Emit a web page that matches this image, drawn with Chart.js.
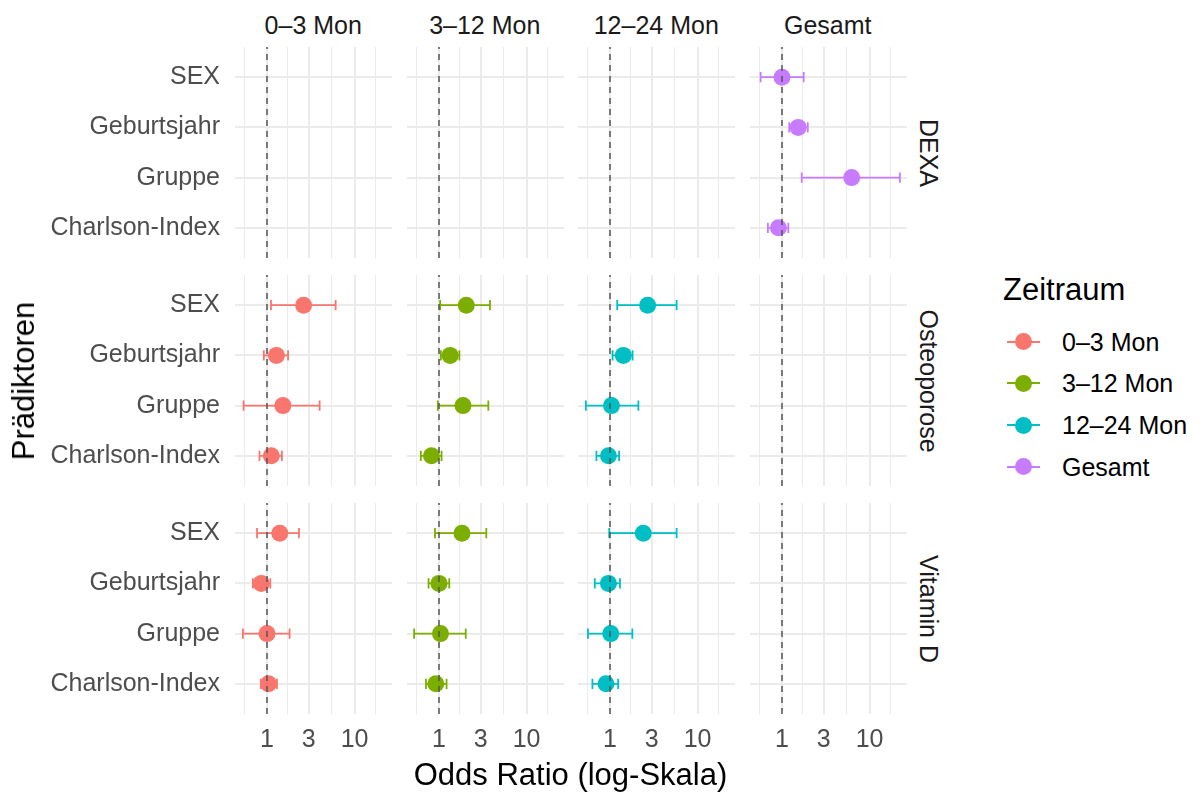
<!DOCTYPE html>
<html lang="de">
<head>
<meta charset="utf-8">
<title>Odds Ratios nach Zeitraum</title>
<script src="https://cdn.jsdelivr.net/npm/chart.js@4"></script>
<style>
  body { margin: 0; background: #fff; font-family: "Liberation Sans", Arial, sans-serif; }
  #plot { position: relative; width: 1199px; height: 792px; overflow: hidden; }
  #plot canvas { position: absolute; }
  .txt { position: absolute; white-space: nowrap; }
  .strip { font-size: 25px; line-height: 30px; color: #1A1A1A; }
  .title { font-size: 31px; line-height: 36px; color: #000; }
  .legend-item { position: absolute; left: 1007px; height: 30px; display: flex; align-items: center; }
  .key { position: relative; width: 33px; height: 30px; }
  .key .line { position: absolute; left: 0; right: 0; top: 14px; height: 2px; }
  .key .dot { position: absolute; left: 8px; top: 6.5px; width: 17px; height: 17px; border-radius: 50%; }
  .legend-item span.lab { margin-left: 22px; font-size: 25px; line-height: 30px; color: #000; }
</style>
</head>
<body>
<div id="plot"></div>
<script>
const zeitraeume = ['0–3 Mon', '3–12 Mon', '12–24 Mon', 'Gesamt'];
const endpunkte = ['DEXA', 'Osteoporose', 'Vitamin D'];
const praediktoren = ['SEX', 'Geburtsjahr', 'Gruppe', 'Charlson-Index'];
const xBreaks = [0.3, 1, 3, 10, 30];
const xLabels = [1, 3, 10];

// OR mit 95%-KI je Zeitraum, Reihenfolge wie praediktoren (null = kein Modell)
const dexaOR = [null, null, null, [1.00, 1.53, 6.25, 0.91]];
const dexaLo = [null, null, null, [0.57, 1.21, 1.68, 0.69]];
const dexaHi = [null, null, null, [1.77, 1.97, 22.2, 1.18]];

const osteoOR = [[2.62, 1.28, 1.52, 1.12], [2.05, 1.34, 1.88, 0.82], [2.69, 1.42, 1.04, 0.96], null];
const osteoLo = [[1.11, 0.92, 0.54, 0.82], [1.03, 1.05, 0.97, 0.62], [1.21, 1.07, 0.53, 0.70], null];
const osteoHi = [[6.08, 1.74, 3.99, 1.48], [3.82, 1.71, 3.66, 1.07], [5.77, 1.81, 2.11, 1.27], null];

const vitdOR = [[1.40, 0.86, 1.00, 1.04], [1.83, 1.00, 1.04, 0.92], [2.40, 0.96, 1.02, 0.90], null];
const vitdLo = [[0.77, 0.69, 0.53, 0.85], [0.90, 0.76, 0.52, 0.71], [0.98, 0.67, 0.56, 0.63], null];
const vitdHi = [[2.32, 1.09, 1.81, 1.30], [3.47, 1.31, 2.02, 1.22], [5.77, 1.30, 1.80, 1.24], null];

const farben = ['#F8766D', '#7CAE00', '#00BFC4', '#C77CFF'];

const zeilen = [
    [dexaOR, dexaLo, dexaHi],
    [osteoOR, osteoLo, osteoHi],
    [vitdOR, vitdLo, vitdHi]
];

// Raster der Facetten
const COL_X = [235, 406.5, 578, 749.5];
const ROW_Y = [47, 275, 503];
const PANEL_W = 156.5;
const PANEL_H = 211;
const Y_AXIS_W = 235;
const X_AXIS_H = 50;
const FONT = '"Liberation Sans", Arial, sans-serif';

const plot = document.getElementById('plot');

// gemeinsame log-Achse wie bei ggplot (5% Erweiterung)
const alleWerte = zeilen.flatMap(z => [z[1], z[2]]).flat().filter(Boolean).flat();
const lmin = Math.log10(Math.min(...alleWerte));
const lmax = Math.log10(Math.max(...alleWerte));
const ext = (lmax - lmin) * 0.05;
const xMin = Math.pow(10, lmin - ext);
const xMax = Math.pow(10, lmax + ext);

const xGrid = [];
xBreaks.forEach((b, i) => {
    xGrid.push(b);
    if (i < xBreaks.length - 1) xGrid.push(Math.sqrt(b * xBreaks[i + 1]));
});
const xGridSichtbar = xGrid.filter(v => v >= xMin && v <= xMax);

function addText(text, cls, css) {
    const d = document.createElement('div');
    d.className = 'txt ' + cls;
    d.textContent = text;
    Object.assign(d.style, css);
    plot.appendChild(d);
    return d;
}

function panel(row, col) {
    const [orAll, loAll, hiAll] = zeilen[row];
    const or = orAll[col], lo = loAll[col], hi = hiAll[col];
    const first = col === 0;
    const last = row === ROW_Y.length - 1;

    const canvas = document.createElement('canvas');
    const left = first ? 0 : COL_X[col];
    const width = first ? COL_X[0] + PANEL_W : PANEL_W;
    canvas.width = Math.round(width);
    canvas.height = PANEL_H + (last ? X_AXIS_H : 0);
    canvas.style.left = left + 'px';
    canvas.style.top = ROW_Y[row] + 'px';
    plot.appendChild(canvas);

    const datasets = [{
        data: [{ x: 1, y: 0.4 }, { x: 1, y: 4.6 }],
        showLine: true,
        borderColor: '#555555',
        borderWidth: 1.5,
        borderDash: [6, 5],
        pointRadius: 0,
        order: 0
    }];

    if (or) {
        const farbe = farben[col];
        const balken = [];
        praediktoren.forEach((p, i) => {
            const y = praediktoren.length - i;
            balken.push({ x: lo[i], y }, { x: hi[i], y }, { x: hi[i], y: null });
            balken.push({ x: lo[i], y: y - 0.1 }, { x: lo[i], y: y + 0.1 }, { x: lo[i], y: null });
            balken.push({ x: hi[i], y: y - 0.1 }, { x: hi[i], y: y + 0.1 }, { x: hi[i], y: null });
        });
        datasets.push({
            data: balken,
            showLine: true,
            spanGaps: false,
            borderColor: farbe,
            borderWidth: 1.8,
            pointRadius: 0,
            order: 2
        });
        datasets.push({
            data: or.map((v, i) => ({ x: v, y: praediktoren.length - i })),
            backgroundColor: farbe,
            borderWidth: 0,
            pointRadius: 8.5,
            order: 1
        });
    }

    new Chart(canvas, {
        type: 'scatter',
        data: { datasets },
        options: {
            responsive: false,
            animation: false,
            events: [],
            layout: { padding: 0, autoPadding: false },
            plugins: { legend: { display: false }, tooltip: { enabled: false } },
            scales: {
                x: {
                    type: 'logarithmic',
                    min: xMin,
                    max: xMax,
                    afterBuildTicks: s => { s.ticks = xGridSichtbar.map(v => ({ value: v })); },
                    afterFit: s => {
                        s.height = last ? X_AXIS_H : 0;
                        s.paddingLeft = 0; s.paddingRight = 0;
                    },
                    border: { display: false },
                    grid: {
                        color: '#EBEBEB',
                        drawTicks: false,
                        lineWidth: c => (c.tick && xBreaks.includes(c.tick.value)) ? 2 : 1
                    },
                    ticks: {
                        display: last,
                        autoSkip: false,
                        maxRotation: 0,
                        padding: 11,
                        color: '#4D4D4D',
                        font: { family: FONT, size: 25 },
                        callback: v => xLabels.includes(v) ? String(v) : ''
                    }
                },
                y: {
                    type: 'linear',
                    min: 0.4,
                    max: praediktoren.length + 0.6,
                    afterBuildTicks: s => { s.ticks = praediktoren.map((p, i) => ({ value: i + 1 })); },
                    afterFit: s => {
                        s.width = first ? Y_AXIS_W : 0;
                        s.paddingTop = 0; s.paddingBottom = 0;
                    },
                    border: { display: false },
                    grid: { color: '#EBEBEB', lineWidth: 2, drawTicks: false },
                    ticks: {
                        display: first,
                        padding: 15,
                        color: '#4D4D4D',
                        font: { family: FONT, size: 25 },
                        callback: v => praediktoren[praediktoren.length - v]
                    }
                }
            }
        }
    });
}

ROW_Y.forEach((_, r) => COL_X.forEach((_, c) => panel(r, c)));

// Facettenbeschriftungen oben
zeitraeume.forEach((z, c) => {
    addText(z, 'strip', {
        left: (COL_X[c] + PANEL_W / 2) + 'px', top: '9.5px', transform: 'translateX(-50%)'
    });
});

// Facettenbeschriftungen rechts
endpunkte.forEach((e, r) => {
    addText(e, 'strip', {
        left: '929px', top: (ROW_Y[r] + PANEL_H / 2) + 'px',
        transform: 'translate(-50%, -50%) rotate(90deg)'
    });
});

// Achsentitel
addText('Odds Ratio (log-Skala)', 'title', {
    left: (COL_X[0] + (COL_X[3] + PANEL_W - COL_X[0]) / 2) + 'px', top: '757px', transform: 'translateX(-50%)'
});
addText('Prädiktoren', 'title', {
    left: '24px', top: '381px', transform: 'translate(-50%, -50%) rotate(-90deg)'
});

// Legende
addText('Zeitraum', 'title', { left: '1003px', top: '272px' });
const LEGEND_Y = [341.7, 383.3, 425, 466.7];
zeitraeume.forEach((z, i) => {
    const item = document.createElement('div');
    item.className = 'legend-item';
    item.style.top = (LEGEND_Y[i] - 15) + 'px';
    item.innerHTML = `<div class="key"><div class="line" style="background:${farben[i]}"></div>` +
        `<div class="dot" style="background:${farben[i]}"></div></div><span class="lab">${z}</span>`;
    plot.appendChild(item);
});
</script>
</body>
</html>
